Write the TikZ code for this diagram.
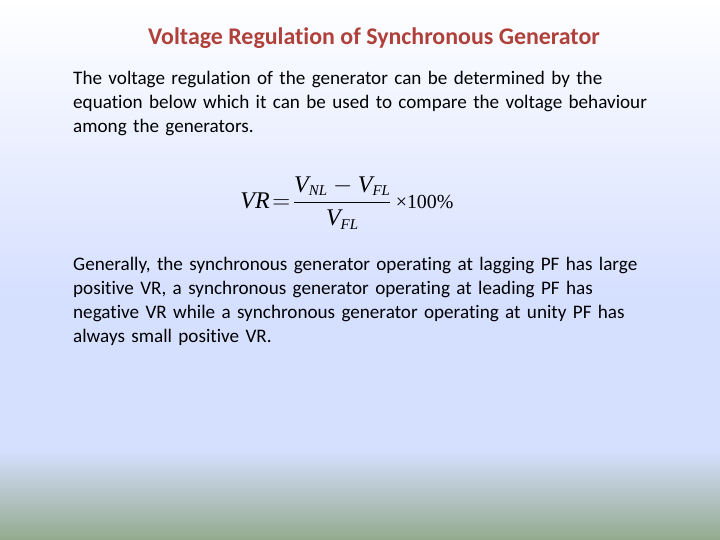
\documentclass[tikz,border=0pt]{standalone}
\usepackage{fontspec}
\setmainfont[Ligatures=NoCommon]{Carlito}
\newfontfamily\tms{Liberation Serif}
\definecolor{bgblue}{HTML}{D5DFFF}
\definecolor{bggreen}{HTML}{94AA8E}
\definecolor{titlered}{HTML}{B0403A}
\newcommand{\iv}[1]{\mbox{\tms\itshape #1}}
\newcommand{\sv}[1]{\mbox{\tms\itshape\fontsize{15}{15}\selectfont #1}}
\begin{document}
\begin{tikzpicture}[x=1bp,y=-1bp,
  body/.style={anchor=north west,align=left,font=\fontsize{19.2}{24}\selectfont,inner sep=0pt,text width=645bp}]
\useasboundingbox (0,0) rectangle (720,540);
\shade[top color=white,bottom color=bgblue] (0,0) rectangle (720,300);
\fill[bgblue] (0,299) rectangle (720,452);
\shade[top color=bgblue,bottom color=bggreen] (0,451) rectangle (720,540);
\node[font=\bfseries\fontsize{24}{28}\selectfont,text=titlered] (title) at (374,38) {Voltage Regulation of Synchronous Generator};
\node[body] (p1) at (73,71) {The voltage regulation of the generator can be determined by the\\equation below which it can be used to compare the voltage behaviour\\among the generators.};
\node[font=\fontsize{24}{28}\selectfont] (eq) at (347,203) {$\displaystyle\iv{VR}\!=\!\frac{\iv{V}_{\sv{NL}} - \iv{V}_{\sv{FL}}}{\iv{V}_{\sv{FL}}}\,\mbox{\tms\fontsize{20}{20}\selectfont ×100\%}$};
\node[body] (p2) at (73,257) {Generally, the synchronous generator operating at lagging PF has large\\positive VR, a synchronous generator operating at leading PF has\\negative VR while a synchronous generator operating at unity PF has\\always small positive VR.};
\end{tikzpicture}
\end{document}
